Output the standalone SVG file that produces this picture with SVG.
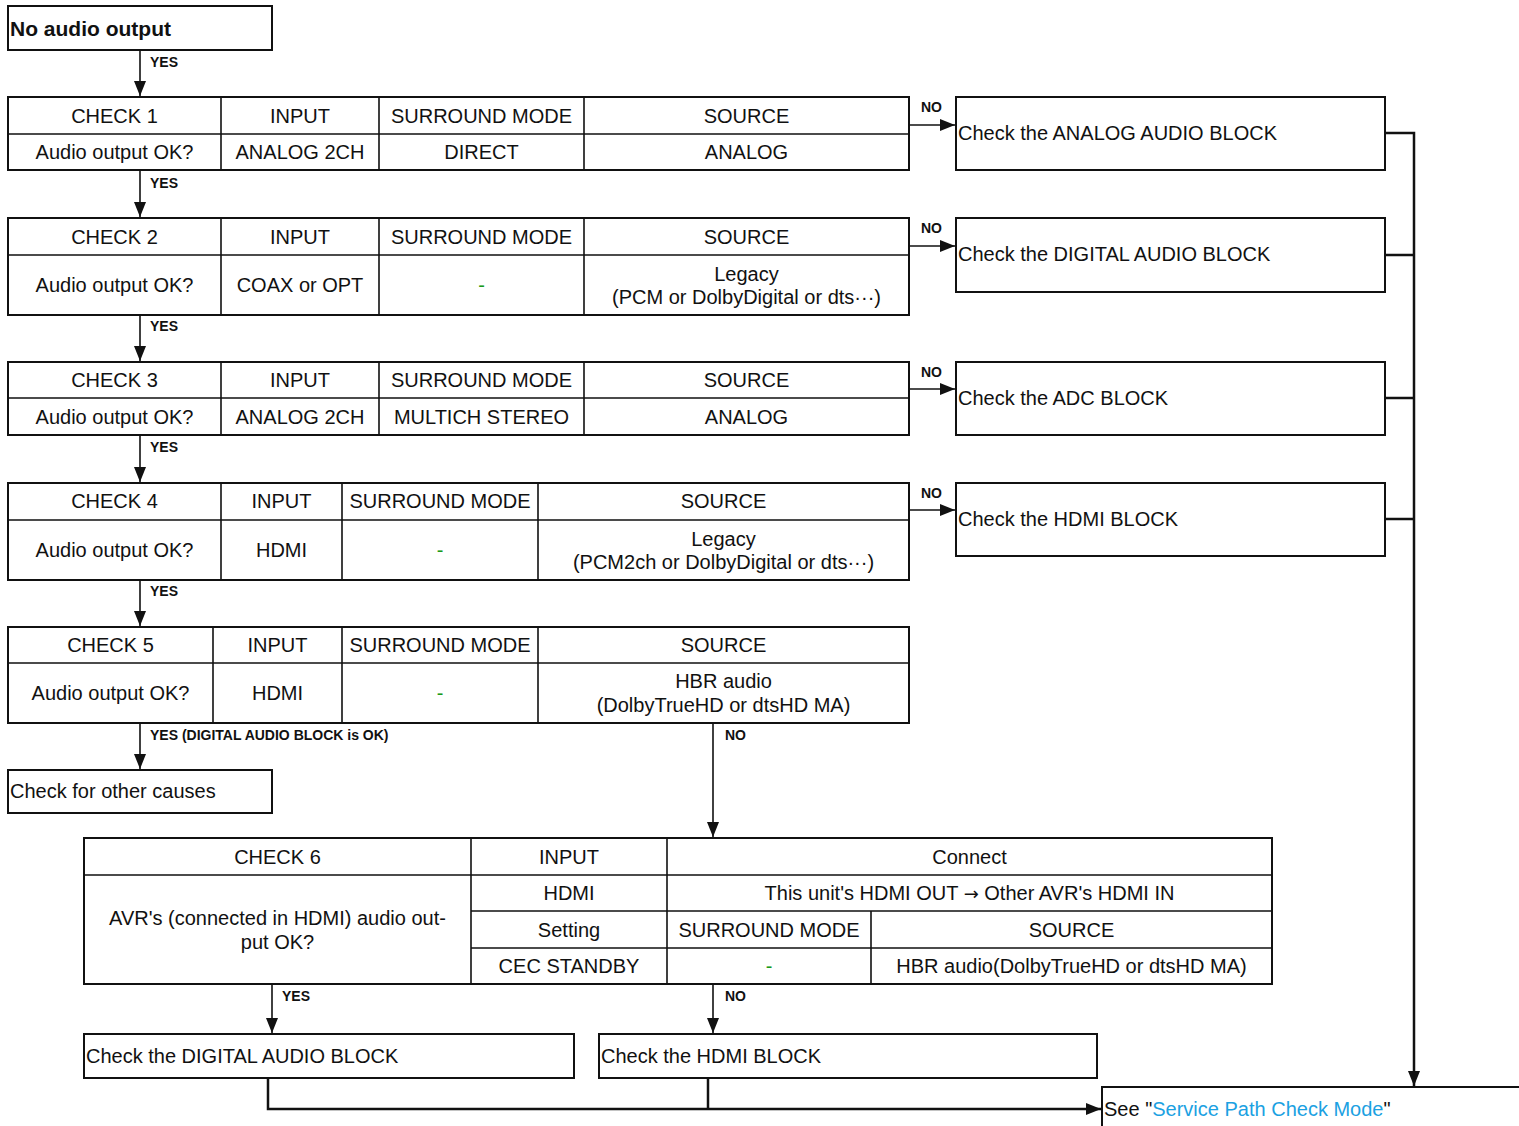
<svg xmlns="http://www.w3.org/2000/svg" width="1519" height="1126" viewBox="0 0 1519 1126">
<style>
text{font-family:"Liberation Sans",Arial,sans-serif;font-size:20px;fill:#111;dominant-baseline:central}
.c{text-anchor:middle}
.lbl{font-size:14px;font-weight:bold}
.title{font-size:21px;font-weight:bold}
.g{fill:#1a9a1a}
.blue{fill:#1ba1e2}
.arr{font-family:"DejaVu Sans",sans-serif;font-size:18px}
.box{fill:#fff;stroke:#111;stroke-width:2}
.in{stroke:#111;stroke-width:1.6;fill:none}
.con{stroke:#111;stroke-width:1.6;fill:none}
.bus{stroke:#111;stroke-width:2.5;fill:none}
</style>
<defs>
<marker id="ah" markerUnits="userSpaceOnUse" markerWidth="16" markerHeight="12" refX="15" refY="6" orient="auto">
<path d="M0,0 L15,6 L0,12 z" fill="#111"/>
</marker>
</defs>
<rect width="1519" height="1126" fill="#fff"/>

<g id="start">
<rect class="box" x="8" y="6" width="264" height="44"/>
<text class="title" x="10" y="28">No audio output</text>
</g>

<g id="check1">
<rect class="box" x="8" y="97" width="901" height="73"/>
<path class="in" d="M8,134H909M221,97V170M379,97V170M584,97V170"/>
<text class="c" x="114.5" y="116">CHECK 1</text>
<text class="c" x="300" y="116">INPUT</text>
<text class="c" x="481.5" y="116">SURROUND MODE</text>
<text class="c" x="746.5" y="116">SOURCE</text>
<text class="c" x="114.5" y="152">Audio output OK?</text>
<text class="c" x="300" y="152">ANALOG 2CH</text>
<text class="c" x="481.5" y="152">DIRECT</text>
<text class="c" x="746.5" y="152">ANALOG</text>
</g>

<g id="check2">
<rect class="box" x="8" y="218" width="901" height="97"/>
<path class="in" d="M8,255H909M221,218V315M379,218V315M584,218V315"/>
<text class="c" x="114.5" y="237">CHECK 2</text>
<text class="c" x="300" y="237">INPUT</text>
<text class="c" x="481.5" y="237">SURROUND MODE</text>
<text class="c" x="746.5" y="237">SOURCE</text>
<text class="c" x="114.5" y="285">Audio output OK?</text>
<text class="c" x="300" y="285">COAX or OPT</text>
<text class="c g" x="481.5" y="285">-</text>
<text class="c" x="746.5" y="274">Legacy</text>
<text class="c" x="746.5" y="297">(PCM or DolbyDigital or dts···)</text>
</g>

<g id="check3">
<rect class="box" x="8" y="362" width="901" height="73"/>
<path class="in" d="M8,398H909M221,362V435M379,362V435M584,362V435"/>
<text class="c" x="114.5" y="380">CHECK 3</text>
<text class="c" x="300" y="380">INPUT</text>
<text class="c" x="481.5" y="380">SURROUND MODE</text>
<text class="c" x="746.5" y="380">SOURCE</text>
<text class="c" x="114.5" y="417">Audio output OK?</text>
<text class="c" x="300" y="417">ANALOG 2CH</text>
<text class="c" x="481.5" y="417">MULTICH STEREO</text>
<text class="c" x="746.5" y="417">ANALOG</text>
</g>

<g id="check4">
<rect class="box" x="8" y="483" width="901" height="97"/>
<path class="in" d="M8,520H909M221,483V580M342,483V580M538,483V580"/>
<text class="c" x="114.5" y="501">CHECK 4</text>
<text class="c" x="281.5" y="501">INPUT</text>
<text class="c" x="440" y="501">SURROUND MODE</text>
<text class="c" x="723.5" y="501">SOURCE</text>
<text class="c" x="114.5" y="550">Audio output OK?</text>
<text class="c" x="281.5" y="550">HDMI</text>
<text class="c g" x="440" y="550">-</text>
<text class="c" x="723.5" y="539">Legacy</text>
<text class="c" x="723.5" y="562">(PCM2ch or DolbyDigital or dts···)</text>
</g>

<g id="check5">
<rect class="box" x="8" y="627" width="901" height="96"/>
<path class="in" d="M8,663H909M213,627V723M342,627V723M538,627V723"/>
<text class="c" x="110.5" y="645">CHECK 5</text>
<text class="c" x="277.5" y="645">INPUT</text>
<text class="c" x="440" y="645">SURROUND MODE</text>
<text class="c" x="723.5" y="645">SOURCE</text>
<text class="c" x="110.5" y="693">Audio output OK?</text>
<text class="c" x="277.5" y="693">HDMI</text>
<text class="c g" x="440" y="693">-</text>
<text class="c" x="723.5" y="681">HBR audio</text>
<text class="c" x="723.5" y="705">(DolbyTrueHD or dtsHD MA)</text>
</g>

<g id="other">
<rect class="box" x="8" y="770" width="264" height="43"/>
<text x="10" y="791">Check for other causes</text>
</g>

<g id="check6">
<rect class="box" x="84" y="838" width="1188" height="146"/>
<path class="in" d="M84,875H1272M471,911H1272M471,948H1272M471,838V984M667,838V984M871,911V984"/>
<text class="c" x="277.5" y="857">CHECK 6</text>
<text class="c" x="569" y="857">INPUT</text>
<text class="c" x="969.5" y="857">Connect</text>
<text class="c" x="277.5" y="918">AVR's (connected in HDMI) audio out-</text>
<text class="c" x="277.5" y="942">put OK?</text>
<text class="c" x="569" y="893">HDMI</text>
<text class="c" x="969.5" y="893">This unit's HDMI OUT <tspan class="arr">→</tspan> Other AVR's HDMI IN</text>
<text class="c" x="569" y="930">Setting</text>
<text class="c" x="769" y="930">SURROUND MODE</text>
<text class="c" x="1071.5" y="930">SOURCE</text>
<text class="c" x="569" y="966">CEC STANDBY</text>
<text class="c g" x="769" y="966">-</text>
<text class="c" x="1071.5" y="966">HBR audio(DolbyTrueHD or dtsHD MA)</text>
</g>

<g id="analog">
<rect class="box" x="956" y="97" width="429" height="73"/>
<text x="958" y="133">Check the ANALOG AUDIO BLOCK</text>
</g>
<g id="digital">
<rect class="box" x="956" y="218" width="429" height="74"/>
<text x="958" y="254">Check the DIGITAL AUDIO BLOCK</text>
</g>
<g id="adc">
<rect class="box" x="956" y="362" width="429" height="73"/>
<text x="958" y="398">Check the ADC BLOCK</text>
</g>
<g id="hdmi1">
<rect class="box" x="956" y="483" width="429" height="73"/>
<text x="958" y="519">Check the HDMI BLOCK</text>
</g>

<g id="digital2">
<rect class="box" x="84" y="1034" width="490" height="44"/>
<text x="86" y="1056">Check the DIGITAL AUDIO BLOCK</text>
</g>
<g id="hdmi2">
<rect class="box" x="599" y="1034" width="498" height="44"/>
<text x="601" y="1056">Check the HDMI BLOCK</text>
</g>

<g id="service">
<path class="box" d="M1519,1087H1102V1130" fill="none"/>
<text x="1104" y="1109">See "<tspan class="blue">Service Path Check Mode</tspan>"</text>
</g>

<g id="connectors">
<path class="con" d="M140,50V96" marker-end="url(#ah)"/>
<path class="con" d="M140,170V217" marker-end="url(#ah)"/>
<path class="con" d="M140,315V361" marker-end="url(#ah)"/>
<path class="con" d="M140,435V482" marker-end="url(#ah)"/>
<path class="con" d="M140,580V626" marker-end="url(#ah)"/>
<path class="con" d="M140,723V769" marker-end="url(#ah)"/>
<path class="con" d="M713,723V837" marker-end="url(#ah)"/>
<path class="con" d="M272,984V1033" marker-end="url(#ah)"/>
<path class="con" d="M713,984V1033" marker-end="url(#ah)"/>
<path class="con" d="M909,125H955" marker-end="url(#ah)"/>
<path class="con" d="M909,246H955" marker-end="url(#ah)"/>
<path class="con" d="M909,389H955" marker-end="url(#ah)"/>
<path class="con" d="M909,510H955" marker-end="url(#ah)"/>
<path class="bus" d="M1385,133H1414V1086" marker-end="url(#ah)"/>
<path class="bus" d="M1385,255H1414M1385,398H1414M1385,519H1414"/>
<path class="bus" d="M268,1078V1109H1101" marker-end="url(#ah)"/>
<path class="bus" d="M708,1078V1109"/>
<text class="lbl" x="150" y="62">YES</text>
<text class="lbl" x="150" y="183">YES</text>
<text class="lbl" x="150" y="326">YES</text>
<text class="lbl" x="150" y="447">YES</text>
<text class="lbl" x="150" y="591">YES</text>
<text class="lbl" x="150" y="735">YES (DIGITAL AUDIO BLOCK is OK)</text>
<text class="lbl" x="725" y="735">NO</text>
<text class="lbl" x="282" y="996">YES</text>
<text class="lbl" x="725" y="996">NO</text>
<text class="lbl" x="921" y="107">NO</text>
<text class="lbl" x="921" y="228">NO</text>
<text class="lbl" x="921" y="372">NO</text>
<text class="lbl" x="921" y="493">NO</text>
</g>
</svg>
